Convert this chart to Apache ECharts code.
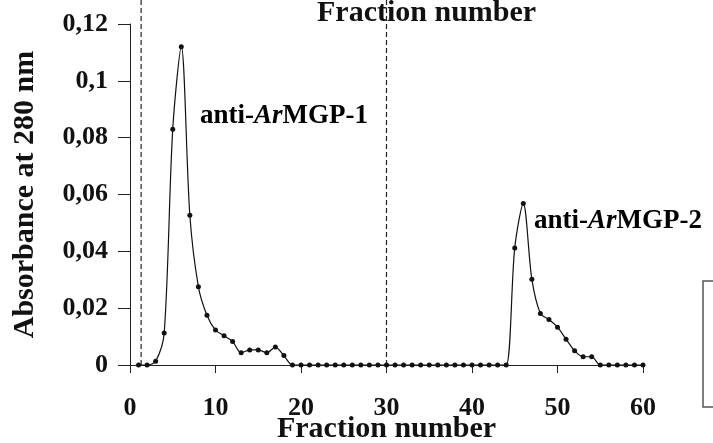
<!DOCTYPE html>
<html><head><meta charset="utf-8">
<script src="https://cdn.jsdelivr.net/npm/echarts@6/dist/echarts.min.js"></script>
<style>html,body{margin:0;padding:0;background:#fff}#c{width:713px;height:443px}</style>
</head><body><div id="c"></div>
<script>
// Fraction numbers and absorbance at 280 nm
const fractions = [1,2,3,4,5,6,7,8,9,10,11,12,13,14,15,16,17,18,19,20,21,22,23,24,25,26,27,28,29,30,31,32,33,34,35,36,37,38,39,40,41,42,43,44,45,46,47,48,49,50,51,52,53,54,55,56,57,58,59,60];
const absorbance = [0,0,0.0013,0.0113,0.083,0.112,0.0527,0.0275,0.0175,0.0123,0.0103,0.0083,0.0043,0.0053,0.0053,0.0043,0.0063,0.0033,0,0,0,0,0,0,0,0,0,0,0,0,0,0,0,0,0,0,0,0,0,0,0,0,0,0,0.0412,0.0568,0.0302,0.0181,0.016,0.0133,0.0091,0.005,0.0029,0.0029,0,0,0,0,0,0];
const dashedAt = [1.3, 30];
const xTicks = [0, 60, 10];   // min, max, interval
const yTicks = [0, 0.12, 0.02];
const peakLabels = ['1', '2'];

const FONT = 'Liberation Serif';
const chart = echarts.init(document.getElementById('c'), null, {renderer: 'canvas'});
const pts = fractions.map((f, i) => [f, absorbance[i]]);

function lbl(n) {
  return '{n|anti-}{i|Ar}{n|MGP-' + n + '}';
}
const rich = {
  n: {fontFamily: FONT, fontWeight: 'bold', fontSize: 27, color: '#111'},
  i: {fontFamily: FONT, fontWeight: 'bold', fontStyle: 'italic', fontSize: 27, color: '#111'}
};

chart.setOption({
  animation: false,
  backgroundColor: '#fff',
  grid: {left: 130, right: 70, top: 24, bottom: 78, containLabel: false, outerBoundsMode: 'none'},
  xAxis: {
    type: 'value', min: xTicks[0], max: xTicks[1], interval: xTicks[2],
    name: 'Fraction number', nameLocation: 'middle', nameGap: 49, nameMoveOverlap: false,
    nameTextStyle: {fontFamily: FONT, fontWeight: 'bold', fontSize: 30, color: '#111'},
    axisLine: {lineStyle: {color: '#222', width: 1}},
    axisTick: {inside: false, length: 8, lineStyle: {color: '#222'}},
    axisLabel: {margin: 30, fontFamily: FONT, fontWeight: 'bold', fontSize: 26, color: '#111'},
    splitLine: {show: false}
  },
  yAxis: {
    type: 'value', min: yTicks[0], max: yTicks[1], interval: yTicks[2],
    name: 'Absorbance at 280 nm', nameLocation: 'middle', nameGap: 90, nameRotate: 90, nameMoveOverlap: false,
    nameTextStyle: {fontFamily: FONT, fontWeight: 'bold', fontSize: 30, color: '#111'},
    axisLine: {show: true, lineStyle: {color: '#222', width: 1}},
    axisTick: {show: true, inside: false, length: 12, lineStyle: {color: '#222'}},
    axisLabel: {margin: 22, fontFamily: FONT, fontWeight: 'bold', fontSize: 26, color: '#111',
      formatter: v => String(+v.toFixed(2)).replace('.', ',')},
    splitLine: {show: false}
  },
  series: [{
    type: 'line', data: pts, smooth: 0.3,
    symbol: 'circle', symbolSize: 5,
    itemStyle: {color: '#111'},
    lineStyle: {color: '#111', width: 1.2}
  }]
});

const yBase = chart.convertToPixel({yAxisIndex: 0}, 0);
const graphics = dashedAt.map(v => {
  const px = chart.convertToPixel({xAxisIndex: 0}, v);
  return {type: 'line', shape: {x1: px, y1: 0, x2: px, y2: yBase},
    style: {stroke: '#222', lineWidth: 1.2, lineDash: [5, 3]}, z: 1};
});
graphics.push(
  {type: 'text', left: 200, top: 103, style: {text: lbl(peakLabels[0]), rich: rich}},
  {type: 'text', left: 534, top: 208, style: {text: lbl(peakLabels[1]), rich: rich}},
  {type: 'text', left: 317, top: -2, style: {text: 'Fraction number', fontFamily: FONT, fontWeight: 'bold', fontSize: 30, fill: '#111'}},
  {type: 'rect', shape: {x: 703, y: 281, width: 30, height: 126}, style: {fill: 'none', stroke: '#555', lineWidth: 1.5}}
);
chart.setOption({graphic: graphics});
</script></body></html>
